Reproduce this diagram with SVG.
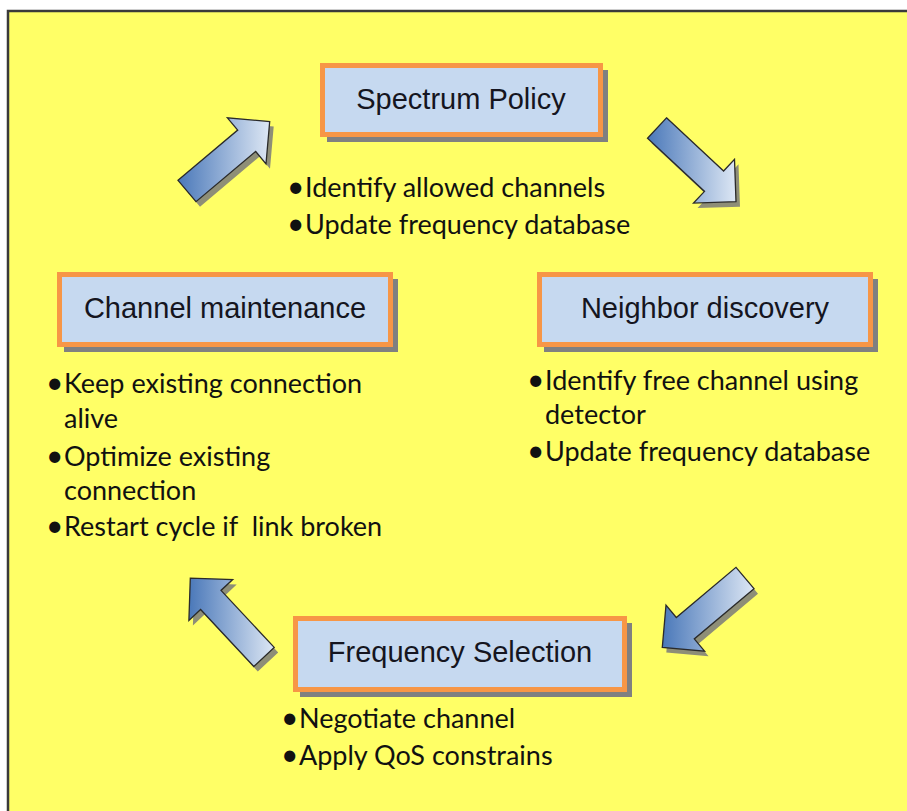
<svg xmlns="http://www.w3.org/2000/svg" width="907" height="811" viewBox="0 0 907 811">
<defs>
<linearGradient id="ag" x1="0" y1="0" x2="1" y2="0">
<stop offset="0" stop-color="#4a78b9"/>
<stop offset="1" stop-color="#dde7f4"/>
</linearGradient>
<path id="a1" d="M178.0,180.3 L237.7,130.1 L227.4,117.8 L269.7,121.6 L266.0,163.8 L255.7,151.5 L196.0,201.7 Z"/>
<path id="a2" d="M666.5,117.8 L723.6,171.0 L734.5,159.3 L736.0,201.7 L693.5,203.1 L704.5,191.4 L647.5,138.2 Z"/>
<path id="a3" d="M754.0,588.7 L694.3,638.9 L704.6,651.2 L662.3,647.4 L666.0,605.2 L676.3,617.5 L736.0,567.3 Z"/>
<path id="a4" d="M253.8,666.5 L200.6,609.5 L188.9,620.5 L190.3,578.1 L232.7,579.5 L221.0,590.4 L274.2,647.4 Z"/>
</defs>
<style>
.bg{fill:#ffff66;stroke:#3a3a3a;stroke-width:2.5}
.box{fill:#c6d9f0;stroke:#f79646;stroke-width:5}
.shadow{fill:#808080}
.ashadow{fill:#7a7a7a;opacity:0.85}
.arrow{fill:url(#ag);stroke:#2a2a2a;stroke-width:1.3;stroke-linejoin:miter}
.title{font-family:"Liberation Sans",Arial,sans-serif;font-size:29px;fill:#151520;text-anchor:middle}
.item{font-family:Lato,"Noto Sans",sans-serif;font-size:27px;fill:#111}
.dot{font-size:30px}
</style>
<rect class="bg" x="8" y="11" width="910" height="810"/>
<g id="connectors">
<use href="#a1" class="ashadow" transform="translate(4,5)"/>
<use href="#a1" class="arrow"/>
<use href="#a2" class="ashadow" transform="translate(4,5)"/>
<use href="#a2" class="arrow"/>
<use href="#a3" class="ashadow" transform="translate(4,5)"/>
<use href="#a3" class="arrow"/>
<use href="#a4" class="ashadow" transform="translate(4,5)"/>
<use href="#a4" class="arrow"/>
</g>
<g id="spectrum-policy">
<rect class="shadow" x="327" y="70" width="281" height="72"/>
<rect class="box" x="322.5" y="65.5" width="278" height="69"/>
<text class="title" x="461" y="109">Spectrum Policy</text>
<text class="item"><tspan class="dot" x="287" y="197">•</tspan><tspan x="305" y="197">Identify allowed channels</tspan></text>
<text class="item"><tspan class="dot" x="287" y="234">•</tspan><tspan x="305" y="234">Update frequency database</tspan></text>
</g>
<g id="neighbor-discovery">
<rect class="shadow" x="544" y="279" width="334" height="73"/>
<rect class="box" x="539.5" y="274.5" width="331" height="70"/>
<text class="title" x="705" y="318">Neighbor discovery</text>
<text class="item"><tspan class="dot" x="527" y="390">•</tspan><tspan x="545" y="390">Identify free channel using</tspan></text>
<text class="item" x="545" y="424">detector</text>
<text class="item"><tspan class="dot" x="527" y="461">•</tspan><tspan x="545" y="461">Update frequency database</tspan></text>
</g>
<g id="frequency-selection">
<rect class="shadow" x="300" y="623" width="332" height="74"/>
<rect class="box" x="295.5" y="618.5" width="329" height="71"/>
<text class="title" x="460" y="662">Frequency Selection</text>
<text class="item"><tspan class="dot" x="281" y="728">•</tspan><tspan x="299" y="728">Negotiate channel</tspan></text>
<text class="item"><tspan class="dot" x="281" y="765">•</tspan><tspan x="299" y="765">Apply QoS constrains</tspan></text>
</g>
<g id="channel-maintenance">
<rect class="shadow" x="64" y="279" width="334" height="73"/>
<rect class="box" x="59.5" y="274.5" width="331" height="70"/>
<text class="title" x="225" y="318">Channel maintenance</text>
<text class="item"><tspan class="dot" x="46" y="393">•</tspan><tspan x="64" y="393">Keep existing connection</tspan></text>
<text class="item" x="64" y="428">alive</text>
<text class="item"><tspan class="dot" x="46" y="466">•</tspan><tspan x="64" y="466">Optimize existing</tspan></text>
<text class="item" x="64" y="500">connection</text>
<text class="item"><tspan class="dot" x="46" y="536">•</tspan><tspan x="64" y="536">Restart cycle if&#160; link broken</tspan></text>
</g>
</svg>
